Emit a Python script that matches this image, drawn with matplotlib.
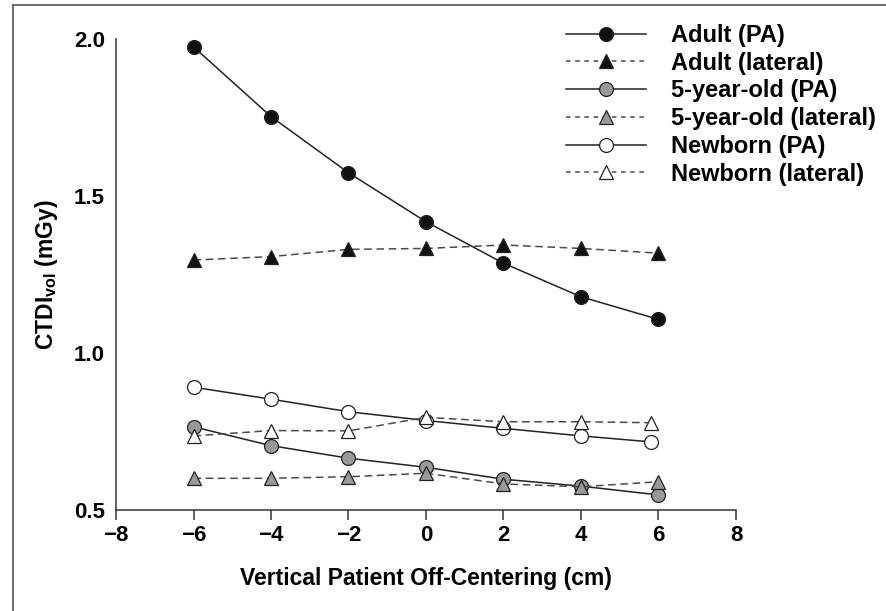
import matplotlib
matplotlib.use("Agg")
import matplotlib.pyplot as plt
from matplotlib.lines import Line2D

plt.rcParams['font.family'] = ['Liberation Sans', 'DejaVu Sans']
plt.rcParams['font.weight'] = 'bold'
plt.rcParams['mathtext.fontset'] = 'custom'
plt.rcParams['mathtext.rm'] = 'Liberation Sans:bold'
plt.rcParams['mathtext.bf'] = 'Liberation Sans:bold'

# off-centering positions (cm)
offsets = [-6, -4, -2, 0, 2, 4, 6]
newborn_offsets = [-6, -4, -2, 0, 2, 4, 5.8]

# CTDIvol (mGy)
adult_pa = [1.975, 1.753, 1.574, 1.418, 1.286, 1.179, 1.107]
adult_lat = [1.296, 1.307, 1.330, 1.333, 1.344, 1.333, 1.318]
child_pa = [0.765, 0.705, 0.665, 0.636, 0.598, 0.576, 0.548]
child_lat = [0.601, 0.601, 0.606, 0.617, 0.583, 0.574, 0.590]
newborn_pa = [0.891, 0.853, 0.813, 0.785, 0.760, 0.736, 0.717]
newborn_lat = [0.736, 0.753, 0.752, 0.795, 0.781, 0.781, 0.778]

labels = ['Adult (PA)', 'Adult (lateral)', '5-year-old (PA)',
          '5-year-old (lateral)', 'Newborn (PA)', 'Newborn (lateral)']

fig = plt.figure(figsize=(8.87, 6.11), dpi=100)
ax = fig.add_axes([116 / 887, 1 - 510 / 611, 620 / 887, 471 / 611])

series = [
    (offsets, adult_pa, '-', 'o', '#111111'),
    (offsets, adult_lat, '--', '^', '#111111'),
    (offsets, child_pa, '-', 'o', '#999999'),
    (offsets, child_lat, '--', '^', '#999999'),
    (newborn_offsets, newborn_pa, '-', 'o', 'white'),
    (newborn_offsets, newborn_lat, '--', '^', 'white'),
]

handles = []
for (xs, ys, ls, mk, fc), lab in zip(series, labels):
    line_col = '#222222' if ls == '-' else '#4a4a4a'
    ax.plot(xs, ys, linestyle=ls, color=line_col, lw=1.1,
            dashes=(5, 3) if ls == '--' else (None, None))
    ax.plot(xs, ys, linestyle='none', marker=mk, markersize=10,
            markerfacecolor=fc, markeredgecolor='#222222', markeredgewidth=0.9)
    h = Line2D([], [], linestyle=ls, color=line_col, lw=1.1, marker=mk,
               markersize=10, markerfacecolor=fc,
               markeredgecolor='#222222', markeredgewidth=0.9)
    if ls == '--':
        h.set_dashes((3, 3))
    handles.append(h)

ax.set_xlim(-8, 8)
ax.set_ylim(0.5, 2.0)
ax.set_xticks([-8, -6, -4, -2, 0, 2, 4, 6, 8])
ax.set_yticks([0.5, 1.0, 1.5, 2.0])
ax.set_yticklabels(['0.5', '1.0', '1.5', '2.0'])

for side in ['top', 'right']:
    ax.spines[side].set_visible(False)
for side in ['left', 'bottom']:
    ax.spines[side].set_linewidth(1.1)
    ax.spines[side].set_color('#333333')

ax.tick_params(axis='x', direction='out', length=7, width=1.1,
               color='#333333', labelsize=16, pad=4)
ax.tick_params(axis='y', length=0, labelsize=16, pad=8)
for t in ax.get_xticklabels() + ax.get_yticklabels():
    t.set_fontweight('bold')

ax.set_xlabel('Vertical Patient Off-Centering (cm)', fontsize=16.5,
              fontweight='bold', labelpad=15)
ax.set_ylabel(r'CTDI$_{\mathbf{vol}}$ (mGy)', fontsize=16.5,
              fontweight='bold', labelpad=10)

fig.legend(handles=handles, labels=labels, loc='upper left',
           bbox_to_anchor=(566 / 887, 1 - 24 / 611), frameon=False,
           borderpad=0, borderaxespad=0, handlelength=3.4,
           handletextpad=1.05, labelspacing=0.2,
           prop={'size': 17, 'weight': 'bold'})

# outer frame (left and top edges)
fig.add_artist(Line2D([13 / 887, 13 / 887], [0, 1 - 5 / 611],
                      transform=fig.transFigure, color='#555555', lw=1.2))
fig.add_artist(Line2D([13 / 887, 1], [1 - 5 / 611, 1 - 5 / 611],
                      transform=fig.transFigure, color='#555555', lw=1.2))

fig.savefig('out.png', dpi=100)
